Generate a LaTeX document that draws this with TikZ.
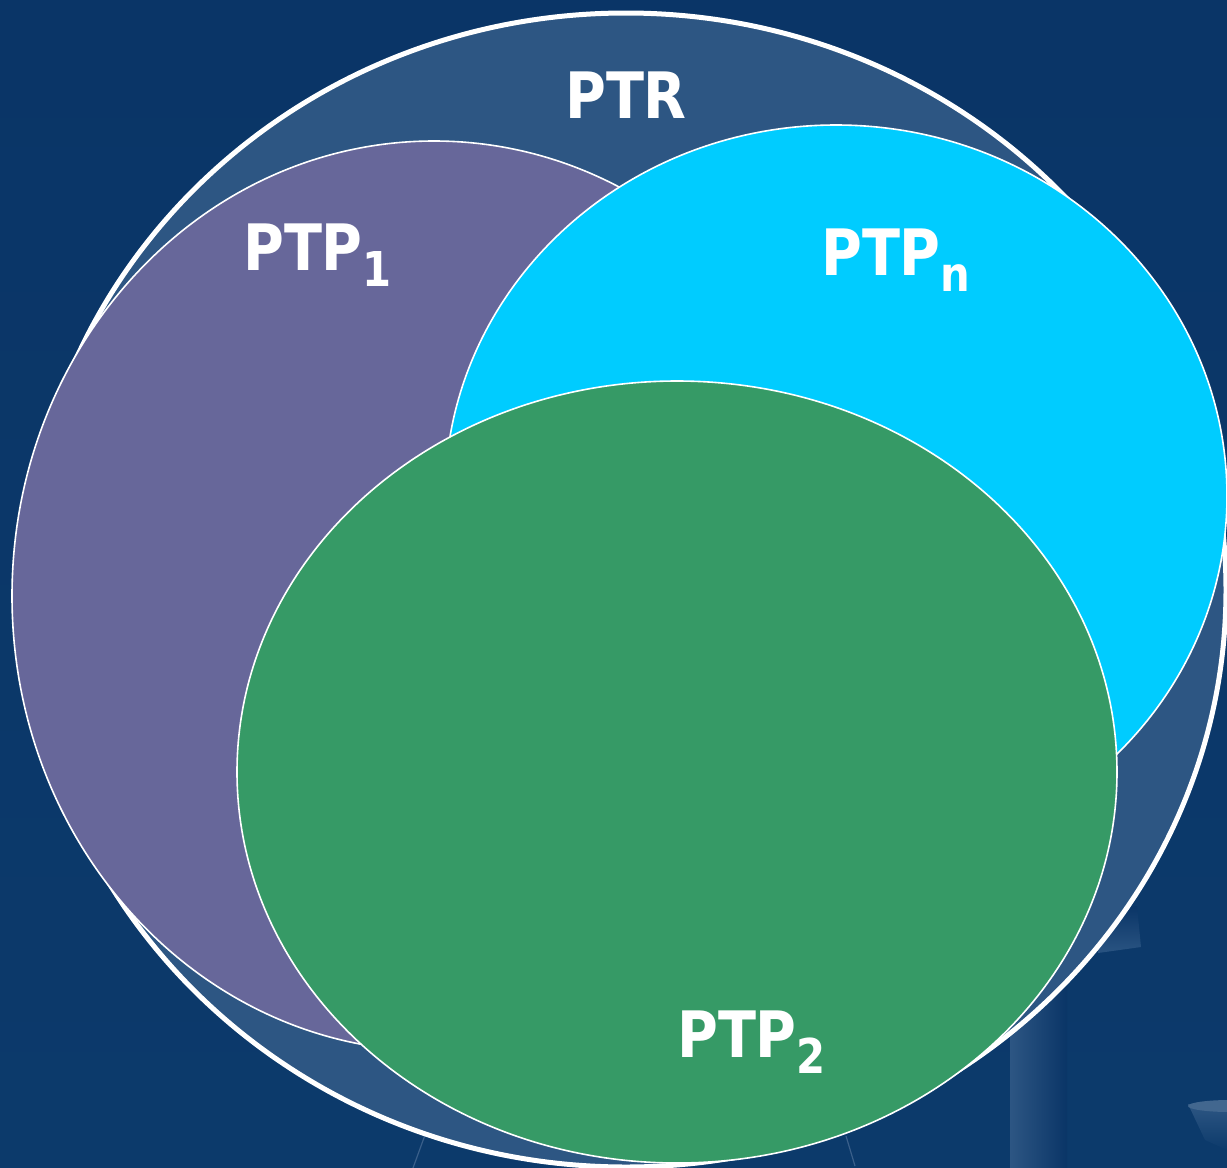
\documentclass[tikz,border=0pt]{standalone}
\usepackage{fontspec}
\newfontfamily\labelfont[FakeStretch=0.87]{DejaVu Sans}
\usetikzlibrary{shapes.geometric}

\definecolor{navytop}{HTML}{0A3567}
\definecolor{navymid}{HTML}{1D4B7C}
\definecolor{navylow}{HTML}{0C3A6B}
\definecolor{ptrblue}{HTML}{2D5683}
\definecolor{ptpviolet}{HTML}{67679A}
\definecolor{ptpcyan}{HTML}{00CCFF}
\definecolor{ptpgreen}{HTML}{369A66}
\definecolor{lampgrey}{HTML}{3A5F8A}

% PTP with a lowered index
\newcommand{\ptpname}[1]{PTP\raisebox{-16pt}{\fontsize{48}{48}\selectfont #1}}

\begin{document}
\begin{tikzpicture}[x=1pt, y=-1pt,
    set/.style={ellipse, draw=white, line width=1.6pt, inner sep=0pt},
    setlabel/.style={anchor=base west, inner sep=0pt, text=white,
      font=\labelfont\bfseries\fontsize{64}{64}\selectfont}]
  \useasboundingbox (0,0) rectangle (1227,1168);

  % backdrop
  \shade[top color=navytop, middle color=navymid, bottom color=navylow] (0,0) rectangle (1227,1168);
  \shade[left color=ptrblue, right color=navytop] (1010,985) rectangle (1067,1168);
  \shade[top color=navytop, bottom color=ptrblue!80!navymid] (1100,912) -- (1137,906) -- (1141,947) -- (1098,953) -- cycle;
  \shade[top color=ptrblue, bottom color=navylow] (1188,1104) -- (1227,1104) -- (1227,1150) -- (1205,1140) -- cycle;
  \fill[ptrblue!90!white] (1230,1106) ellipse (42pt and 6pt);
  \draw[lampgrey, line width=1.2pt] (425,1135) -- (413,1168);
  \draw[lampgrey, line width=1.2pt] (846,1136) -- (855,1166);

  % the sets
  \node[set, line width=5pt, fill=ptrblue, minimum width=1200pt, minimum height=1154pt] (ptr) at (626,590) {};
  \node[set, fill=ptpviolet, minimum width=844pt, minimum height=910pt] (ptp1) at (434,596) {};
  \node[set, fill=ptpcyan, minimum width=782pt, minimum height=742pt] (ptpn) at (836,496) {};
  \node[set, fill=ptpgreen, minimum width=880pt, minimum height=782pt] (ptp2) at (677,772) {};

  % names
  \node[setlabel] (ptrname) at (565,118) {PTR};
  \node[setlabel] (ptp1name) at (243,270) {\ptpname{1}};
  \node[setlabel] (ptpnname) at (821,275) {\ptpname{n}};
  \node[setlabel] (ptp2name) at (677,1057) {\ptpname{2}};
\end{tikzpicture}
\end{document}
